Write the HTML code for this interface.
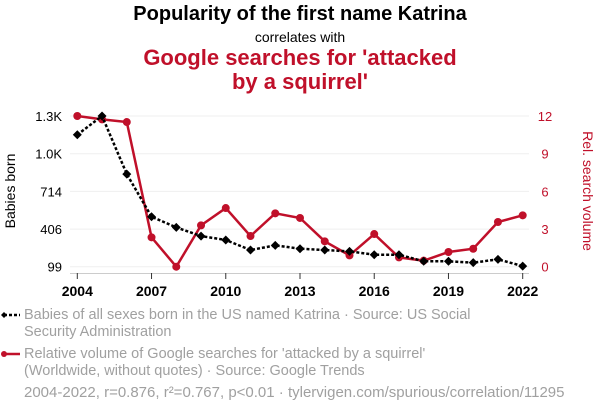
<!DOCTYPE html>
<html><head><meta charset="utf-8"><style>
body{margin:0;background:#fff;width:600px;height:414px;overflow:hidden;font-family:"Liberation Sans",sans-serif}
.t{position:absolute;left:0;width:600px;text-align:center}
.leg{position:absolute;left:24px;font-size:14.5px;color:#a0a0a0;line-height:17px}
</style></head><body>
<div class="t" style="top:3px;font-size:20px;font-weight:bold;color:#000">Popularity of the first name Katrina</div>
<div class="t" style="top:29px;font-size:14px;color:#000">correlates with</div>
<div class="t" style="top:46px;font-size:22px;font-weight:bold;color:#c0102a;line-height:24px">Google searches for 'attacked<br>by a squirrel'</div>
<svg id="c" width="600" height="300" style="position:absolute;left:0;top:0"></svg>
<div class="leg" style="top:307px">Babies of all sexes born in the US named Katrina · Source: US Social<br>Security Administration</div>
<div class="leg" style="top:346px">Relative volume of Google searches for 'attacked by a squirrel'<br>(Worldwide, without quotes) · Source: Google Trends</div>
<div class="leg" style="top:384px;font-size:15px">2004-2022, r=0.876, r²=0.767, p&lt;0.01 · tylervigen.com/spurious/correlation/11295</div>
<svg width="24" height="80" style="position:absolute;left:0;top:305px">
<line x1="4" y1="10" x2="20" y2="10" stroke="#000" stroke-width="2.5" stroke-dasharray="3,2"/><path d="M1 10 L4 7 L7 10 L4 13Z" fill="#000"/>
<line x1="4" y1="49" x2="20" y2="49" stroke="#c0102a" stroke-width="2.5"/><circle cx="4" cy="49" r="3" fill="#c0102a"/>
</svg>
<script>
const years=[2004,2005,2006,2007,2008,2009,2010,2011,2012,2013,2014,2015,2016,2017,2018,2019,2020,2021,2022];
const babies=[1176,1329,855,507,420,349,317,235,273,246,235,224,197,197,143,143,132,159,104];
const searches=[12,11.73,11.52,2.34,0,3.29,4.67,2.44,4.25,3.88,2.02,0.9,2.6,0.74,0.48,1.17,1.43,3.56,4.09];
const leftTicks=[99,406,714,1021,1329];
const leftLabels=["99","406","714","1.0K","1.3K"];
const rightTicks=[0,3,6,9,12];
const xTicks=[2004,2007,2010,2013,2016,2019,2022];
const NS="http://www.w3.org/2000/svg",svg=document.getElementById('c');
const x=y=>77.3+(y-2004)*(445.4/18);
const yl=v=>266.7-(v-99)/1230*150.7;
const yr=v=>266.7-v/12*150.7;
function mk(t,a,p){const e=document.createElementNS(NS,t);for(const k in a)e.setAttribute(k,a[k]);(p||svg).appendChild(e);return e;}
leftTicks.forEach((v,i)=>{
const g=mk('line',{x1:70,x2:529,y1:yl(v),y2:yl(v),stroke:'#efefef','stroke-width':1});


const t=mk('text',{x:62,y:yl(v)+5,'text-anchor':'end','font-size':13,fill:'#000'});t.textContent=leftLabels[i];


});
rightTicks.forEach(v=>{
const t=mk('text',{x:545,y:yr(v)+5,'text-anchor':'middle','font-size':13,fill:'#c0102a'});t.textContent=v;


});
const ax=mk('line',{x1:70,x2:529,y1:273.5,y2:273.5,stroke:'#ccc','stroke-width':1});


xTicks.forEach(v=>{
mk('line',{x1:x(v),x2:x(v),y1:273,y2:279,stroke:'#333','stroke-width':1});
const t=mk('text',{x:x(v),y:296,'text-anchor':'middle','font-size':14,'font-weight':'bold',fill:'#000'});t.textContent=v;


});
const yt=mk('text',{transform:'translate(15,191) rotate(-90)','text-anchor':'middle','font-size':14,fill:'#000'});yt.textContent='Babies born';


const yt2=mk('text',{transform:'translate(583,191) rotate(90)','text-anchor':'middle','font-size':14,fill:'#c0102a'});yt2.textContent='Rel. search volume';


const rl=mk('polyline',{points:years.map((y,i)=>x(y)+','+yr(searches[i])).join(' '),fill:'none',stroke:'#c0102a','stroke-width':2.5});


years.forEach((y,i)=>{const c=mk('circle',{cx:x(y),cy:yr(searches[i]),r:4,fill:'#c0102a'});

});
const bl=mk('polyline',{points:years.map((y,i)=>x(y)+','+yl(babies[i])).join(' '),fill:'none',stroke:'#000','stroke-width':2.5,'stroke-dasharray':'3,2'});


years.forEach((y,i)=>{const cx=x(y),cy=yl(babies[i]);const d=mk('path',{d:`M${cx-4.5} ${cy}L${cx} ${cy-4.5}L${cx+4.5} ${cy}L${cx} ${cy+4.5}Z`,fill:'#000'});

});
</script>
</body></html>
